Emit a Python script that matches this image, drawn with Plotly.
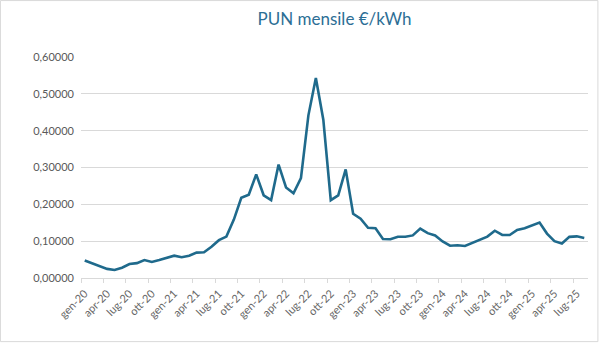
import plotly.graph_objects as go

months_it = ["gen", "feb", "mar", "apr", "mag", "giu", "lug", "ago", "set", "ott", "nov", "dic"]
years = [20, 21, 22, 23, 24, 25]
categories = [f"{m}-{y}" for y in years for m in months_it][:68]

pun_kwh = [
    0.04747, 0.03930, 0.03202, 0.02481, 0.02179, 0.02801, 0.03801, 0.04032, 0.04880, 0.04357, 0.04875, 0.05403,
    0.06071, 0.05657, 0.06041, 0.06902, 0.06994, 0.08480, 0.10265, 0.11240, 0.15859, 0.21763, 0.22595, 0.28124,
    0.22450, 0.21169, 0.30807, 0.24597, 0.23006, 0.27131, 0.44165, 0.54315, 0.42992, 0.21119, 0.22450, 0.29491,
    0.17449, 0.16107, 0.13638, 0.13497, 0.10573, 0.10534, 0.11211, 0.11189, 0.11564, 0.13428, 0.12174, 0.11547,
    0.09916, 0.08763, 0.08886, 0.08680, 0.09488, 0.10323, 0.11233, 0.12844, 0.11719, 0.11665, 0.13058, 0.13508,
    0.14303, 0.15036, 0.12055, 0.09985, 0.09358, 0.11178, 0.11310, 0.10878,
]

idx = list(range(len(pun_kwh)))
tick_idx = idx[::3]
tick_txt = [categories[i] for i in tick_idx]

fig = go.Figure()
fig.add_trace(go.Scatter(
    x=idx, y=pun_kwh, mode="lines",
    line=dict(color="#1F6A8C", width=2.6),
    hoverinfo="skip",
))

L, R, T, B = 81, 12.4, 57, 64.7
W = 600 - L - R
H = 343 - T - B

fig.update_layout(
    width=600, height=343,
    margin=dict(l=L, r=R, t=T, b=B, pad=0),
    paper_bgcolor="white", plot_bgcolor="white",
    separators=",.",
    showlegend=False,
    font=dict(family="Lato", size=11, color="#595959"),
    title=dict(text="PUN mensile €/kWh", x=0.5, xref="paper", xanchor="center",
               y=1 - 19 / 343, yref="container", yanchor="middle",
               font=dict(family="Lato", size=17, color="#2C6E95")),
    xaxis=dict(
        range=[-0.5, len(pun_kwh) - 0.5],
        tickmode="array", tickvals=tick_idx, ticktext=tick_txt,
        tickangle=-45, ticks="", showgrid=False, zeroline=False,
        showline=True, linecolor="#D9D9D9", linewidth=1,
        ticklabelstandoff=4,
        tickfont=dict(size=11, color="#666666"),
        minor=dict(ticks="outside", tickmode="linear", tick0=-0.5, dtick=3,
                   ticklen=4, tickcolor="#D9D9D9", tickwidth=1, showgrid=False),
    ),
    yaxis=dict(
        range=[0, 0.6], tickmode="linear", tick0=0, dtick=0.1,
        tickformat=".5f", showgrid=True, gridcolor="#D9D9D9", gridwidth=1,
        zeroline=False, showline=False, ticks="",
        ticklabelstandoff=6,
        tickfont=dict(size=11, color="#595959"),
    ),
    shapes=[dict(
        type="rect", xref="paper", yref="paper",
        x0=(0.5 - L) / W, x1=(597.5 - L) / W,
        y0=(343 - B - 342) / H, y1=(343 - B - 0.5) / H,
        line=dict(color="#D9D9D9", width=1), fillcolor="rgba(0,0,0,0)", layer="below",
    )],
)

fig.write_html("out.html")
